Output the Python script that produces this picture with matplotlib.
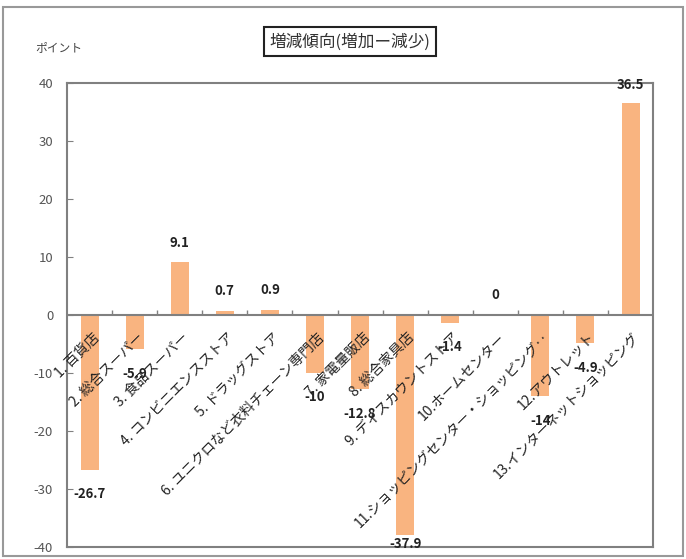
import matplotlib
matplotlib.use('Agg')
import matplotlib.pyplot as plt
from matplotlib.patches import Rectangle
import numpy as np

plt.rcParams['font.family'] = ['Noto Sans CJK JP', 'DejaVu Sans']

categories = ['1. 百貨店', '2. 総合スーパー', '3. 食品スーパー', '4. コンビニエンスストア',
              '5. ドラッグストア', '6. ユニクロなど衣料チェーン専門店', '7. 家電量販店',
              '8. 総合家具店', '9. ディスカウントストア', '10.ホームセンター',
              '11.ショッピングセンター・ショッピング‥', '12.アウトレット',
              '13.インターネットショッピング']
values = [-26.7, -5.9, 9.1, 0.7, 0.9, -10, -12.8, -37.9, -1.4, 0, -14, -4.9, 36.5]
value_labels = ['-26.7', '-5.9', '9.1', '0.7', '0.9', '-10', '-12.8', '-37.9',
                '-1.4', '0', '-14', '-4.9', '36.5']
yticks = [-40, -30, -20, -10, 0, 10, 20, 30, 40]

bar_color = '#F9B480'
frame_color = '#808080'

fig = plt.figure(figsize=(6.86, 5.59), dpi=100)
ax = fig.add_axes([0.0977, 0.0215, 0.8543, 0.83])

x = np.arange(len(categories))
ax.bar(x, values, 0.4, color=bar_color, edgecolor='none', zorder=2)

ax.set_xlim(-0.5, len(categories) - 0.5)
ax.set_ylim(-40, 40)
ax.set_yticks(yticks)
ax.set_yticklabels([str(t) for t in yticks], color='#555555', fontsize=9.5)
ax.tick_params(axis='y', direction='in', length=4, color=frame_color, pad=10)
ax.set_xticks([])
for s in ax.spines.values():
    s.set_color(frame_color)
    s.set_linewidth(1.5)

# zero line with category boundary ticks
ax.axhline(0, color=frame_color, linewidth=1.5, zorder=3)
bounds = np.arange(len(categories) + 1) - 0.5
ax.vlines(bounds[1:-1], 0, 0.9, color=frame_color, linewidth=1, zorder=3)

# category labels
for i, c in enumerate(categories):
    ax.text(i + 0.05, -2.6, c, rotation=45, ha='right', va='top',
            rotation_mode='anchor', fontsize=10, color='#222222', zorder=4)

# value labels (outside end, kept inside the frame)
for i, (v, lab) in enumerate(zip(values, value_labels)):
    if v >= 0:
        ly = min(v + 3.4, 39.6)
    else:
        ly = max(v - 4.2, -39.4)
    ax.text(i, ly, lab, ha='center', va='center', fontsize=9.5, fontweight='bold',
            color='#222222', zorder=5)

fig.text(0.51, 0.925, '増減傾向(増加ー減少)', ha='center', va='center', fontsize=12,
         color='#333333',
         bbox=dict(boxstyle='square,pad=0.35', facecolor='white', edgecolor='#222222', linewidth=1.5))
fig.text(0.052, 0.914, 'ポイント', ha='left', va='center', fontsize=8.5, color='#444444')

fig.patches.append(Rectangle((0.005, 0.006), 0.99, 0.982, transform=fig.transFigure,
                             fill=False, edgecolor='#999999', linewidth=1.5))

fig.savefig('out.png', dpi=100)
